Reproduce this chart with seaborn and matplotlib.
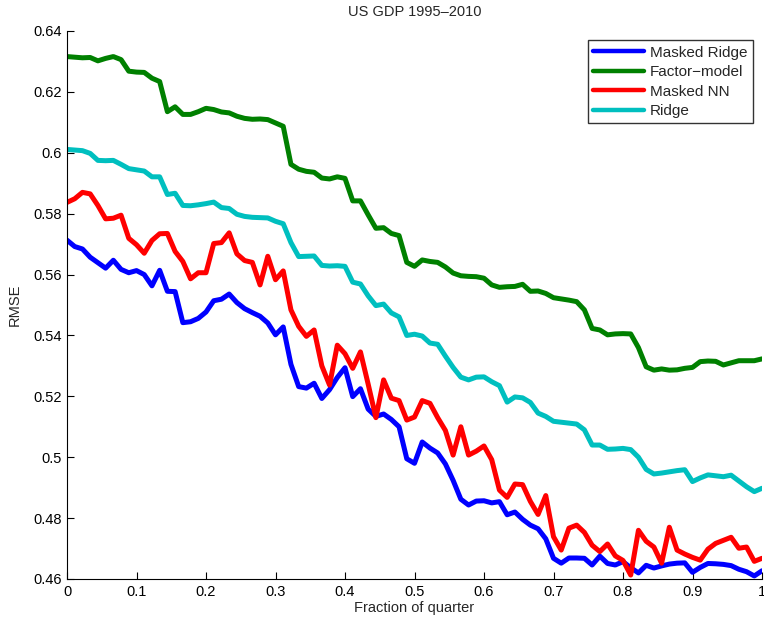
import matplotlib
matplotlib.use("Agg")
import matplotlib.pyplot as plt
import numpy as np
import pandas as pd
import seaborn as sns
from matplotlib import ticker

# fraction of quarter, 91 sample points
frac = np.linspace(0, 1, 91)

masked_ridge = [
    0.5713, 0.5692, 0.5684, 0.5657, 0.5639, 0.5621, 0.5647, 0.5617, 0.5606, 0.5613,
    0.5600, 0.5563, 0.5614, 0.5545, 0.5544, 0.5442, 0.5445, 0.5456, 0.5477, 0.5514,
    0.5519, 0.5536, 0.5508, 0.5488, 0.5475, 0.5463, 0.5441, 0.5402, 0.5428, 0.5305,
    0.5232, 0.5227, 0.5243, 0.5193, 0.5222, 0.5262, 0.5294, 0.5199, 0.5225, 0.5158,
    0.5134, 0.5142, 0.5124, 0.5100, 0.4995, 0.4980, 0.5050, 0.5030, 0.5014, 0.4978,
    0.4924, 0.4862, 0.4843, 0.4856, 0.4857, 0.4850, 0.4854, 0.4811, 0.4820, 0.4796,
    0.4777, 0.4765, 0.4732, 0.4668, 0.4652, 0.4669, 0.4669, 0.4668, 0.4646, 0.4675,
    0.4651, 0.4646, 0.4657, 0.4637, 0.4620, 0.4645, 0.4636, 0.4643, 0.4649, 0.4652,
    0.4653, 0.4622, 0.4638, 0.4651, 0.4650, 0.4648, 0.4644, 0.4632, 0.4624, 0.4610,
    0.4627,
]

factor_model = [
    0.6316, 0.6314, 0.6312, 0.6313, 0.6302, 0.6310, 0.6316, 0.6306, 0.6268, 0.6265,
    0.6264, 0.6245, 0.6234, 0.6135, 0.6151, 0.6126, 0.6126, 0.6135, 0.6146, 0.6142,
    0.6134, 0.6131, 0.6120, 0.6113, 0.6110, 0.6111, 0.6109, 0.6098, 0.6087, 0.5962,
    0.5946, 0.5939, 0.5936, 0.5917, 0.5914, 0.5921, 0.5916, 0.5842, 0.5842, 0.5796,
    0.5752, 0.5754, 0.5735, 0.5728, 0.5640, 0.5627, 0.5648, 0.5643, 0.5640, 0.5625,
    0.5605, 0.5596, 0.5594, 0.5593, 0.5588, 0.5566, 0.5558, 0.5560, 0.5561, 0.5568,
    0.5545, 0.5546, 0.5538, 0.5524, 0.5520, 0.5516, 0.5511, 0.5484, 0.5423, 0.5418,
    0.5402, 0.5405, 0.5406, 0.5405, 0.5360, 0.5297, 0.5286, 0.5290, 0.5286, 0.5287,
    0.5292, 0.5295, 0.5314, 0.5316, 0.5315, 0.5303, 0.5310, 0.5317, 0.5317, 0.5317,
    0.5323,
]

masked_nn = [
    0.5837, 0.5849, 0.5870, 0.5865, 0.5827, 0.5783, 0.5785, 0.5795, 0.5719, 0.5698,
    0.5670, 0.5712, 0.5734, 0.5735, 0.5676, 0.5643, 0.5586, 0.5606, 0.5606, 0.5702,
    0.5705, 0.5737, 0.5668, 0.5646, 0.5640, 0.5566, 0.5660, 0.5583, 0.5612, 0.5484,
    0.5430, 0.5397, 0.5418, 0.5300, 0.5237, 0.5368, 0.5340, 0.5292, 0.5346, 0.5240,
    0.5130, 0.5254, 0.5194, 0.5186, 0.5122, 0.5132, 0.5186, 0.5177, 0.5130, 0.5088,
    0.5007, 0.5100, 0.5007, 0.5020, 0.5037, 0.4992, 0.4892, 0.4868, 0.4912, 0.4910,
    0.4855, 0.4812, 0.4874, 0.4739, 0.4695, 0.4767, 0.4777, 0.4753, 0.4711, 0.4690,
    0.4715, 0.4676, 0.4661, 0.4613, 0.4760, 0.4724, 0.4705, 0.4652, 0.4770, 0.4695,
    0.4682, 0.4671, 0.4662, 0.4698, 0.4717, 0.4727, 0.4737, 0.4701, 0.4705, 0.4658,
    0.4668,
]

ridge = [
    0.6011, 0.6009, 0.6007, 0.5998, 0.5975, 0.5974, 0.5975, 0.5962, 0.5948, 0.5944,
    0.5940, 0.5921, 0.5921, 0.5863, 0.5867, 0.5827, 0.5826, 0.5829, 0.5833, 0.5838,
    0.5820, 0.5817, 0.5798, 0.5791, 0.5788, 0.5787, 0.5786, 0.5775, 0.5767, 0.5705,
    0.5659, 0.5660, 0.5661, 0.5630, 0.5628, 0.5629, 0.5627, 0.5575, 0.5569, 0.5530,
    0.5498, 0.5503, 0.5474, 0.5461, 0.5400, 0.5404, 0.5398, 0.5375, 0.5371, 0.5332,
    0.5295, 0.5263, 0.5254, 0.5263, 0.5264, 0.5248, 0.5235, 0.5181, 0.5198, 0.5195,
    0.5180, 0.5145, 0.5134, 0.5118, 0.5115, 0.5112, 0.5109, 0.5090, 0.5040, 0.5040,
    0.5026, 0.5027, 0.5029, 0.5025, 0.5000, 0.4960, 0.4945, 0.4948, 0.4952, 0.4956,
    0.4959, 0.4920, 0.4932, 0.4942, 0.4939, 0.4936, 0.4941, 0.4922, 0.4903, 0.4887,
    0.4898,
]

methods = ["Masked Ridge", "Factor\u2212model", "Masked NN", "Ridge"]
colors = ["#0000ff", "#008000", "#ff0000", "#00bfbf"]

df = pd.concat([
    pd.DataFrame({"frac": frac, "rmse": vals, "method": name})
    for name, vals in zip(methods, [masked_ridge, factor_model, masked_nn, ridge])
])

sns.set_style("white")
plt.rcParams['font.family'] = ['Liberation Sans', 'DejaVu Sans']

fig = plt.figure(figsize=(7.64, 6.21), dpi=100)
ax = fig.add_axes([67 / 764, 1 - 579 / 621, 695 / 764, 548 / 621])

sns.lineplot(
    data=df, x="frac", y="rmse", hue="method",
    palette=dict(zip(methods, colors)), hue_order=methods,
    linewidth=3.6, ax=ax, sort=False,
)

ax.set_xlim(0, 1)
ax.set_ylim(0.46, 0.64)
ax.set_xticks(np.arange(0, 1.01, 0.1))
ax.set_yticks(np.arange(0.46, 0.641, 0.02))
fmt = ticker.FuncFormatter(lambda v, _: f"{v:g}" if abs(v) > 1e-9 else "0")
ax.xaxis.set_major_formatter(fmt)
ax.yaxis.set_major_formatter(ticker.FuncFormatter(lambda v, _: f"{round(v, 2):g}"))
ax.tick_params(direction="in", length=5, width=0.8, labelsize=10.5, colors="black",
               bottom=True, left=True, pad=4)

for side in ["top", "right"]:
    ax.spines[side].set_visible(False)
for side in ["left", "bottom"]:
    ax.spines[side].set_color("black")
    ax.spines[side].set_linewidth(0.8)

ax.set_title("US GDP 1995\u20132010", fontsize=10.5, pad=11)
ax.set_xlabel("Fraction of quarter", fontsize=10.5, labelpad=2)
ax.set_ylabel("RMSE", fontsize=10.5, labelpad=8)

leg = ax.legend(loc="upper right", fontsize=11, frameon=True, fancybox=False,
                edgecolor="black", handlelength=3.3, handletextpad=0.4,
                labelspacing=0.36, borderpad=0.35, borderaxespad=0.6)
leg.get_frame().set_linewidth(1.0)
for line in leg.get_lines():
    line.set_linewidth(3.2)

fig.savefig("out.png", dpi=100)
